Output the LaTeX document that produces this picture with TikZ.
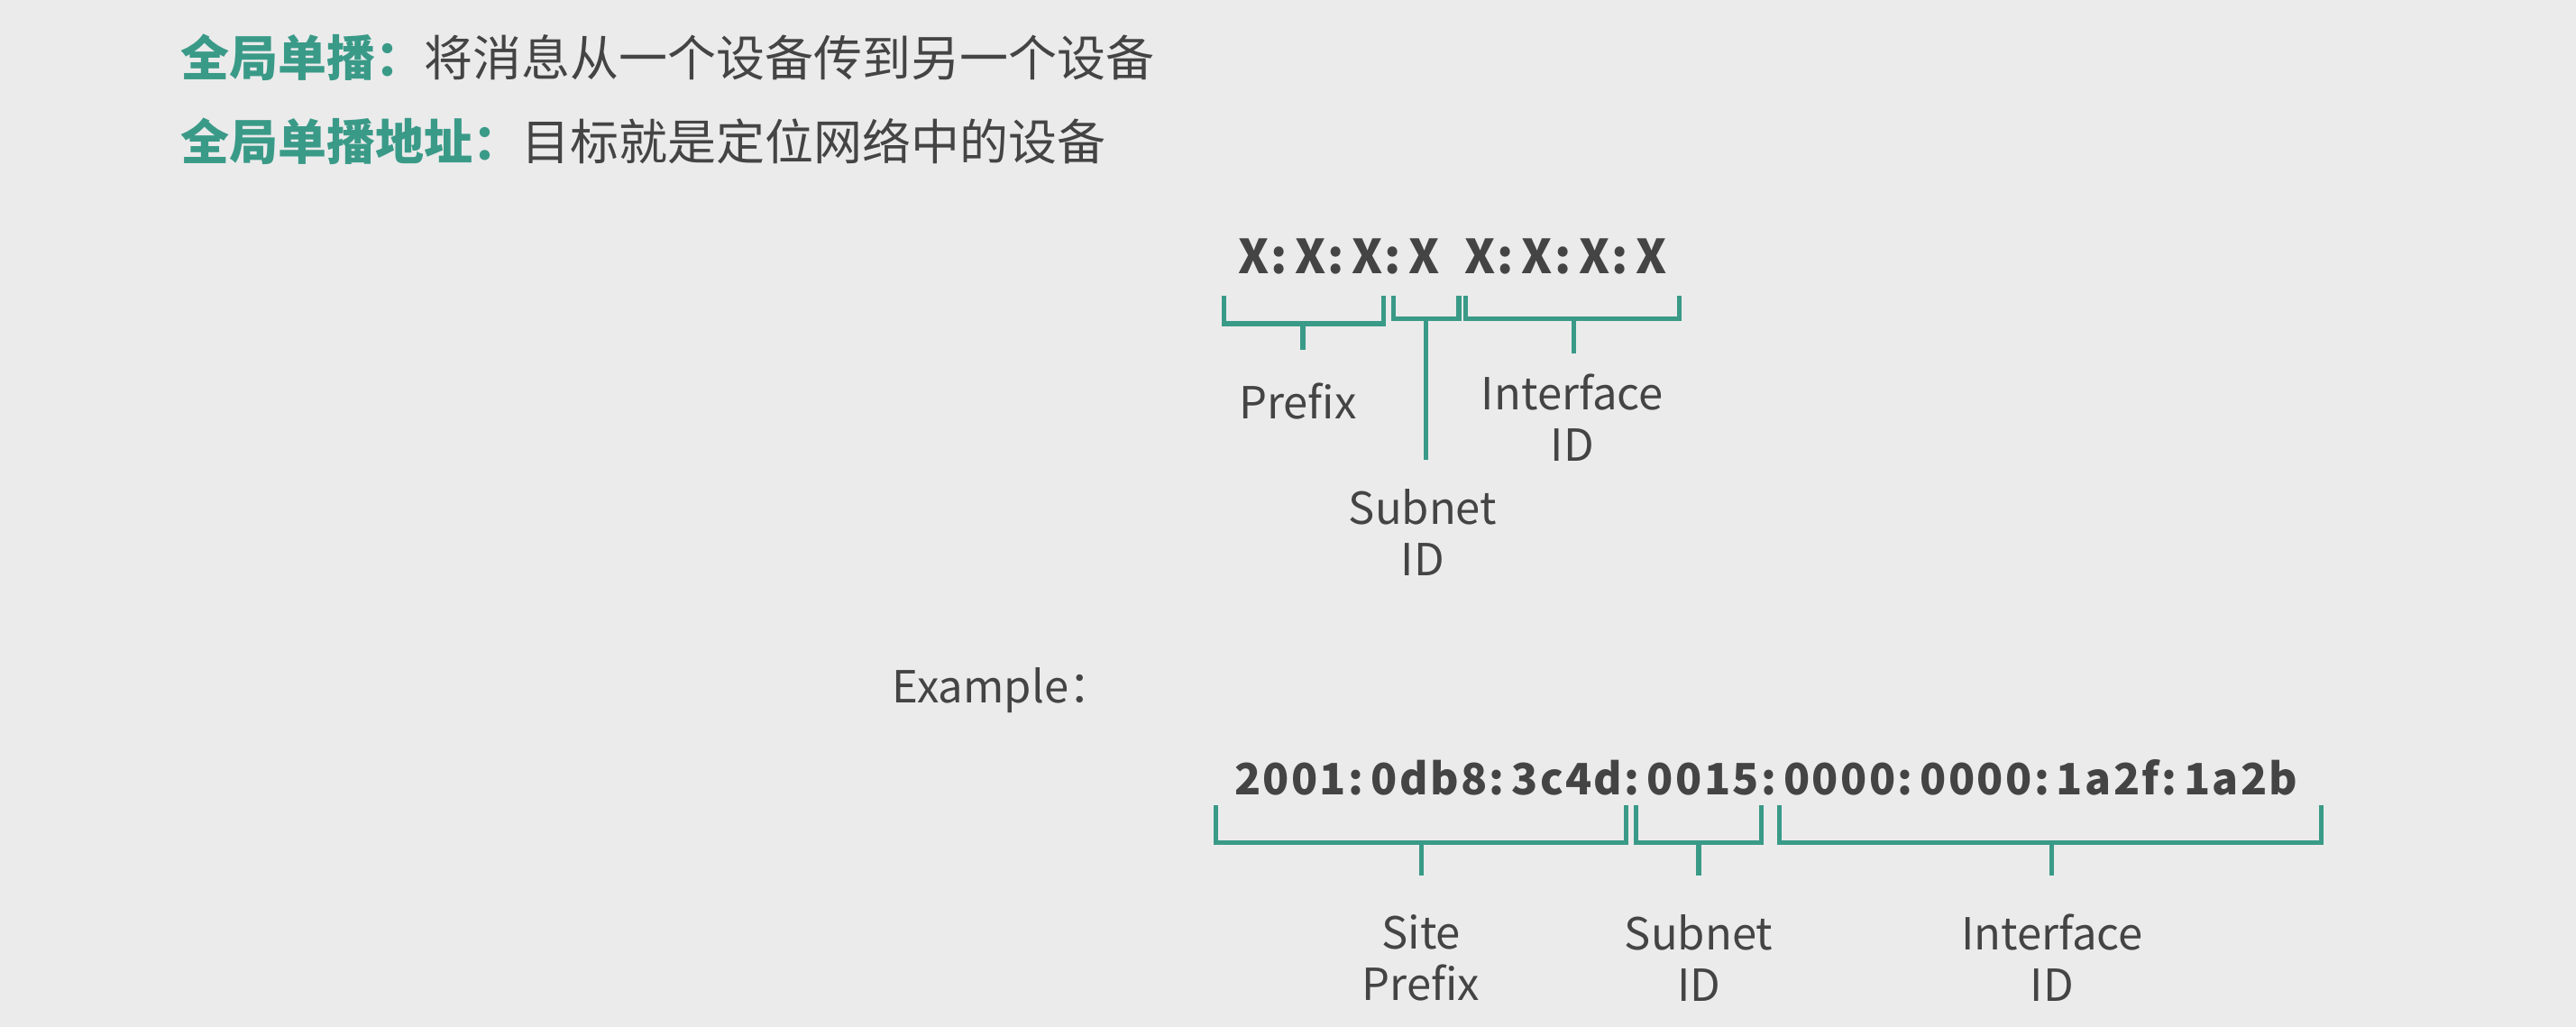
\documentclass[tikz,border=0pt]{standalone}
\usepackage{fontspec}
\setmainfont{Noto Sans CJK SC}
\definecolor{bg}{HTML}{EBEBEB}
\definecolor{teal}{HTML}{3A9A88}
\definecolor{tx}{HTML}{444444}
\begin{document}
\begin{tikzpicture}[x=0.911pt,y=-0.911pt,
  br/.style={draw=teal,line width=2.6pt},
  lbl/.style={text=tx,font=\fontsize{24.5}{28.5}\selectfont,align=center,inner sep=0},
  addr/.style={text=tx,inner sep=0}]
\fill[bg] (0,0) rectangle (1568,625);
\useasboundingbox (0,0) rectangle (1568,625);
\node[anchor=west,inner sep=0,font=\fontsize{27}{30}\selectfont] (t1) at (110,35) {\textcolor{teal}{\bfseries 全局单播：}\textcolor{tx}{将消息从一个设备传到另一个设备}};
\node[anchor=west,inner sep=0,font=\fontsize{27}{30}\selectfont] (t2) at (110,86) {\textcolor{teal}{\bfseries 全局单播地址：}\textcolor{tx}{目标就是定位网络中的设备}};
\node[addr,font=\fontsize{26}{30}\selectfont\bfseries\addfontfeature{LetterSpace=4}] (xs) at (884,156) {X:\,X:\,X:\,X\ \ X:\,X:\,X:\,X};
% brackets top
\draw[br] (745,180) -- (745,197) -- (842,197) -- (842,180);
\draw[br] (793,197) -- (793,213);
\draw[br] (848,180) -- (848,194) -- (888,194) -- (888,180);
\draw[br] (868,194) -- (868,280);
\draw[br] (892,180) -- (892,194) -- (1022,194) -- (1022,180);
\draw[br] (958,194) -- (958,215);
\node[lbl] (p1) at (790,244) {Prefix};
\node[lbl] (i1) at (957,254) {Interface\\ID};
\node[lbl] (s1) at (866,324) {Subnet\\ID};
\node[lbl,anchor=west] (ex) at (543,420) {Example：};
\node[addr,font=\fontsize{24}{28}\selectfont\bfseries\addfontfeature{LetterSpace=5}] (ad) at (1075,473) {2001:\,0db8:\,3c4d:\,0015:\,0000:\,0000:\,1a2f:\,1a2b};
\draw[br] (740,490) -- (740,513) -- (990,513) -- (990,490);
\draw[br] (865,513) -- (865,533);
\draw[br] (996,490) -- (996,513) -- (1072,513) -- (1072,490);
\draw[br] (1034,513) -- (1034,533);
\draw[br] (1083,490) -- (1083,513) -- (1413,513) -- (1413,490);
\draw[br] (1249,513) -- (1249,533);
\node[lbl] (sp) at (865,583) {Site\\Prefix};
\node[lbl] (sn) at (1034,583) {Subnet\\ID};
\node[lbl] (ii) at (1249,583) {Interface\\ID};
\end{tikzpicture}
\end{document}
